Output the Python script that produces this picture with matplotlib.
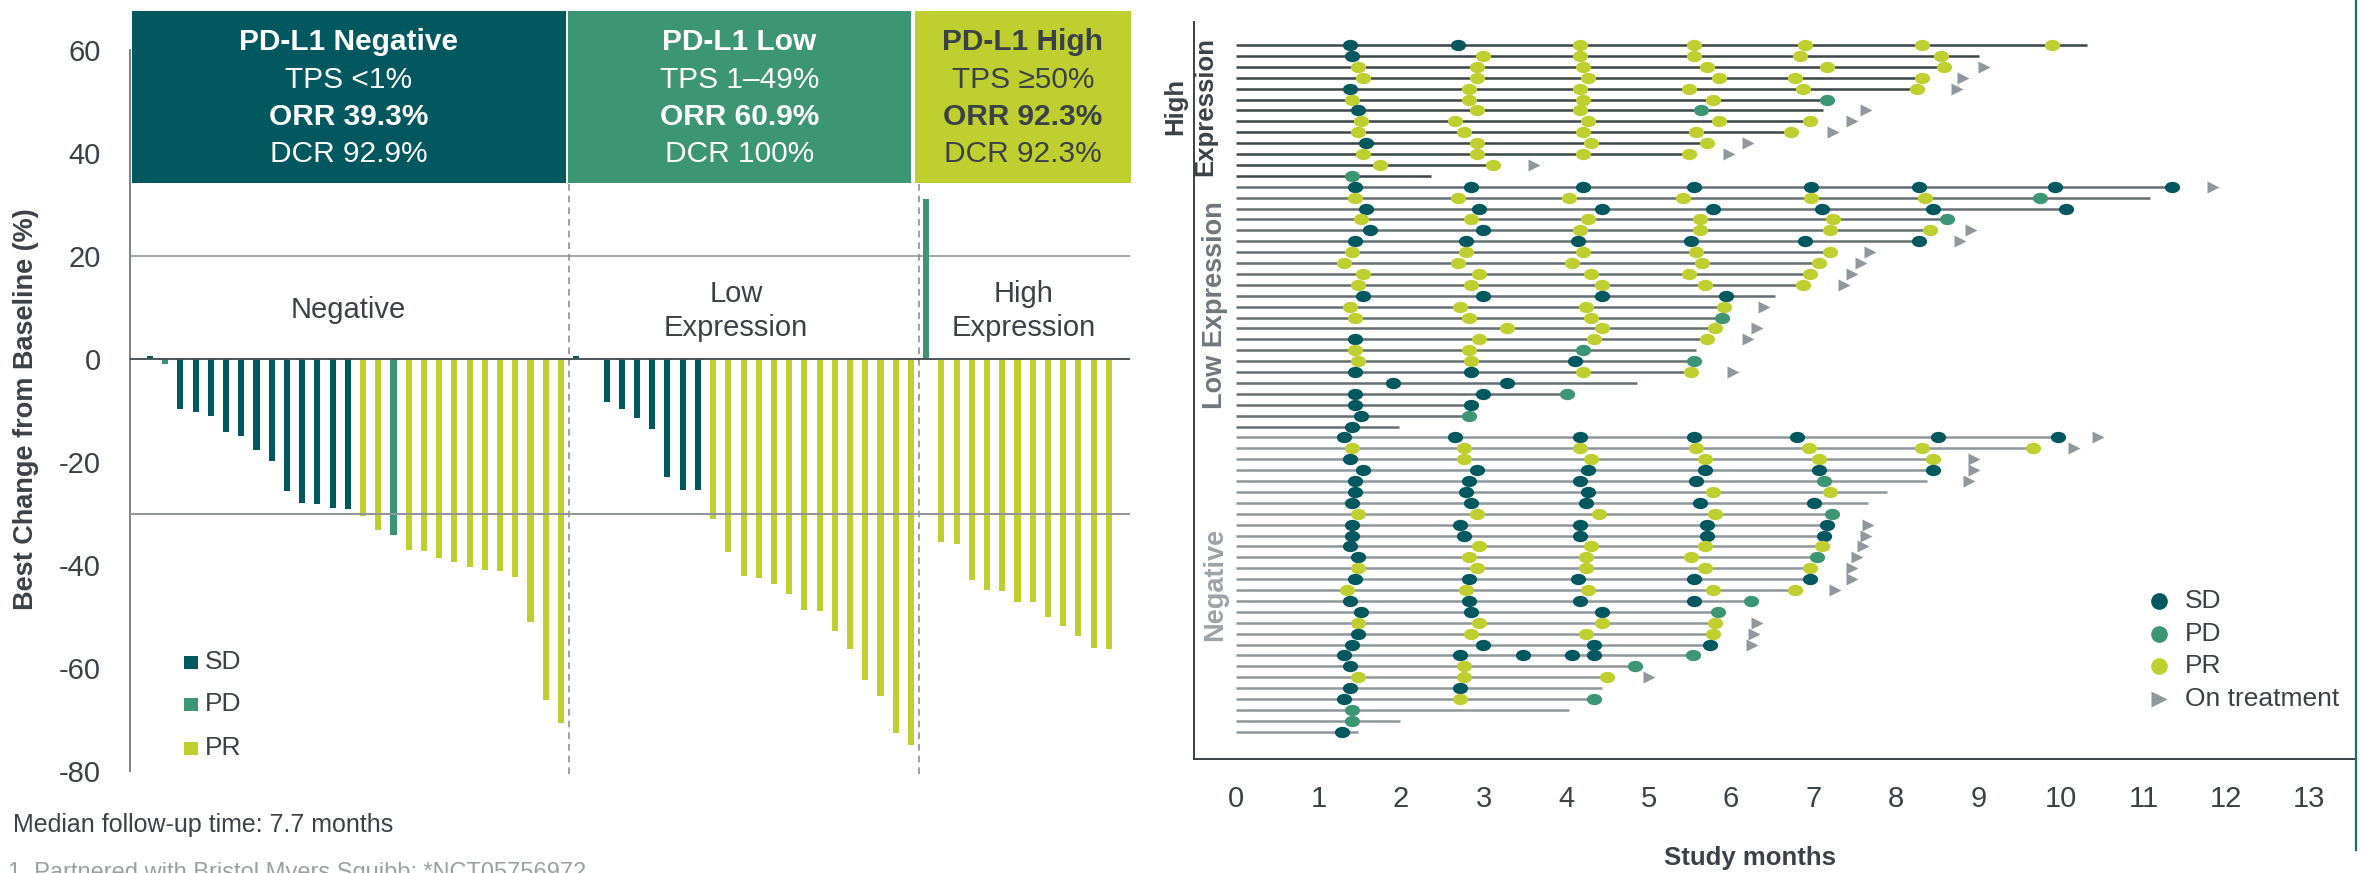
import numpy as np
import matplotlib.pyplot as plt
from matplotlib.path import Path
from matplotlib.transforms import Affine2D
from matplotlib.patches import Rectangle
from matplotlib.lines import Line2D

plt.rcParams['font.family'] = ['Liberation Sans', 'DejaVu Sans']
plt.rcParams['axes.unicode_minus'] = False

SD_COL = '#02585f'
PD_COL = '#3d9673'
PR_COL = '#bfcf2f'
TXT = '#3b4146'
RESP_COL = {'SD': SD_COL, 'PD': PD_COL, 'PR': PR_COL}

# ---- waterfall: best change from baseline (%) per patient ----
neg_change = [0.5, -1.0, -9.8, -10.2, -11.0, -14.2, -15.0, -17.6, -19.9, -25.6, -28.0, -28.2, -29.0, -29.2,
              -30.4, -33.2, -34.2, -37.0, -37.2, -38.7, -39.4, -40.3, -40.9, -41.1, -42.4, -51.1, -66.3, -70.7]
neg_resp = ('SD PD SD SD SD SD SD SD SD SD SD SD SD SD '
            'PR PR PD PR PR PR PR PR PR PR PR PR PR PR').split()
low_change = [0.5, 0.0, -8.3, -9.7, -11.4, -13.5, -22.9, -25.4, -25.5, -31.1, -37.5, -42.1, -42.6, -43.6,
              -45.7, -48.7, -48.9, -52.9, -56.3, -62.4, -65.4, -72.7, -75.0]
low_resp = ('SD SD SD SD SD SD SD SD SD '
            'PR PR PR PR PR PR PR PR PR PR PR PR PR PR').split()
high_change = [31.0, -35.6, -35.9, -43.0, -44.8, -45.0, -47.1, -47.2, -50.0, -51.8, -53.7, -56.2, -56.4]
high_resp = 'PD PR PR PR PR PR PR PR PR PR PR PR PR'.split()

box_titles = ['PD-L1 Negative', 'PD-L1 Low', 'PD-L1 High']
box_tps = ['TPS <1%', 'TPS 1–49%', 'TPS ≥50%']
box_orr = ['ORR 39.3%', 'ORR 60.9%', 'ORR 92.3%']
box_dcr = ['DCR 92.9%', 'DCR 100%', 'DCR 92.3%']
group_labels = ['Negative', 'Low\nExpression', 'High\nExpression']

# ---- swimmer rows, top to bottom: (line end, on-treatment arrow, assessments) ----
high_rows = [
    (10.32, None, [('SD', 1.38), ('SD', 2.69), ('PR', 4.17), ('PR', 5.55), ('PR', 6.90), ('PR', 8.31), ('PR', 9.89)]),
    (9.00, None, [('SD', 1.40), ('PR', 2.99), ('PR', 4.17), ('PR', 5.55), ('PR', 6.84), ('PR', 8.54)]),
    (8.58, 9.07, [('PR', 1.48), ('PR', 2.92), ('PR', 4.20), ('PR', 5.71), ('PR', 7.16), ('PR', 8.58)]),
    (8.31, 8.81, [('PR', 1.54), ('PR', 2.92), ('PR', 4.27), ('PR', 5.85), ('PR', 6.77), ('PR', 8.31)]),
    (8.25, 8.74, [('SD', 1.38), ('PR', 2.82), ('PR', 4.17), ('PR', 5.49), ('PR', 6.87), ('PR', 8.25)]),
    (7.16, None, [('PR', 1.41), ('PR', 2.82), ('PR', 4.20), ('PR', 5.78), ('PD', 7.16)]),
    (7.12, 7.63, [('SD', 1.48), ('PR', 2.92), ('PR', 4.17), ('PD', 5.63)]),
    (6.96, 7.46, [('PR', 1.51), ('PR', 2.66), ('PR', 4.27), ('PR', 5.85), ('PR', 6.96)]),
    (6.73, 7.23, [('PR', 1.48), ('PR', 2.76), ('PR', 4.20), ('PR', 5.58), ('PR', 6.73)]),
    (5.71, 6.21, [('SD', 1.57), ('PR', 2.92), ('PR', 4.30), ('PR', 5.71)]),
    (5.49, 5.98, [('PR', 1.54), ('PR', 2.92), ('PR', 4.20), ('PR', 5.49)]),
    (3.12, 3.61, [('PR', 1.74), ('PR', 3.12)]),
    (2.36, None, [('PD', 1.41)]),
]
low_rows = [
    (11.34, 11.84, [('SD', 1.44), ('SD', 2.85), ('SD', 4.20), ('SD', 5.55), ('SD', 6.97), ('SD', 8.28), ('SD', 9.93), ('SD', 11.34)]),
    (11.08, None, [('PR', 1.44), ('PR', 2.69), ('PR', 4.04), ('PR', 5.42), ('PR', 6.97), ('PR', 8.35), ('PD', 9.75)]),
    (10.06, None, [('SD', 1.57), ('SD', 2.95), ('SD', 4.43), ('SD', 5.78), ('SD', 7.10), ('SD', 8.45), ('SD', 10.06)]),
    (8.62, None, [('PR', 1.51), ('PR', 2.85), ('PR', 4.27), ('PR', 5.62), ('PR', 7.23), ('PD', 8.62)]),
    (8.41, 8.91, [('SD', 1.63), ('SD', 2.99), ('PR', 4.17), ('PR', 5.62), ('PR', 7.20), ('PR', 8.41)]),
    (8.28, 8.78, [('SD', 1.44), ('SD', 2.79), ('SD', 4.14), ('SD', 5.52), ('SD', 6.90), ('SD', 8.28)]),
    (7.20, 7.69, [('PR', 1.41), ('PR', 2.79), ('PR', 4.20), ('PR', 5.58), ('PR', 7.20)]),
    (7.07, 7.57, [('PR', 1.31), ('PR', 2.69), ('PR', 4.07), ('PR', 5.65), ('PR', 7.07)]),
    (6.96, 7.46, [('PR', 1.54), ('PR', 2.95), ('PR', 4.30), ('PR', 5.49), ('PR', 6.96)]),
    (6.87, 7.37, [('PR', 1.48), ('PR', 2.85), ('PR', 4.43), ('PR', 5.69), ('PR', 6.87)]),
    (6.53, None, [('SD', 1.54), ('SD', 2.99), ('SD', 4.43), ('SD', 5.94)]),
    (5.91, 6.40, [('PR', 1.38), ('PR', 2.72), ('PR', 4.24), ('PR', 5.91)]),
    (5.89, None, [('PR', 1.44), ('PR', 2.82), ('PR', 4.30), ('PD', 5.89)]),
    (5.81, 6.31, [('PR', 3.28), ('PR', 4.43), ('PR', 5.81)]),
    (5.71, 6.21, [('SD', 1.44), ('PR', 2.95), ('PR', 4.34), ('PR', 5.71)]),
    (5.58, None, [('PR', 1.44), ('PR', 2.82), ('PD', 4.20)]),
    (5.55, None, [('PR', 1.48), ('PR', 2.85), ('SD', 4.11), ('PD', 5.55)]),
    (5.52, 6.02, [('SD', 1.44), ('SD', 2.85), ('PR', 4.20), ('PR', 5.52)]),
    (4.86, None, [('SD', 1.90), ('SD', 3.28)]),
    (4.01, None, [('SD', 1.44), ('SD', 2.99), ('PD', 4.01)]),
    (2.85, None, [('SD', 1.44), ('SD', 2.85)]),
    (2.82, None, [('SD', 1.51), ('PD', 2.82)]),
    (1.97, None, [('SD', 1.41)]),
]
neg_rows = [
    (9.96, 10.45, [('SD', 1.31), ('SD', 2.66), ('SD', 4.17), ('SD', 5.55), ('SD', 6.80), ('SD', 8.51), ('SD', 9.96)]),
    (9.66, 10.16, [('PR', 1.41), ('PR', 2.76), ('PR', 4.17), ('PR', 5.58), ('PR', 6.94), ('PR', 8.31), ('PR', 9.66)]),
    (8.45, 8.94, [('SD', 1.38), ('PR', 2.76), ('PR', 4.30), ('PR', 5.69), ('PR', 7.07), ('PR', 8.45)]),
    (8.45, 8.94, [('SD', 1.54), ('SD', 2.92), ('SD', 4.27), ('SD', 5.69), ('SD', 7.07), ('SD', 8.45)]),
    (8.38, 8.88, [('SD', 1.44), ('SD', 2.82), ('SD', 4.17), ('SD', 5.58), ('PD', 7.13)]),
    (7.89, None, [('SD', 1.44), ('SD', 2.79), ('SD', 4.27), ('PR', 5.78), ('PR', 7.20)]),
    (7.66, None, [('SD', 1.41), ('SD', 2.85), ('SD', 4.24), ('SD', 5.62), ('SD', 7.00)]),
    (7.22, None, [('PR', 1.48), ('PR', 2.92), ('PR', 4.40), ('PR', 5.81), ('PD', 7.22)]),
    (7.16, 7.66, [('SD', 1.41), ('SD', 2.72), ('SD', 4.17), ('SD', 5.71), ('SD', 7.16)]),
    (7.13, 7.63, [('SD', 1.41), ('SD', 2.76), ('SD', 4.17), ('SD', 5.71), ('SD', 7.13)]),
    (7.10, 7.60, [('SD', 1.38), ('PR', 2.95), ('PR', 4.30), ('PR', 5.69), ('PR', 7.10)]),
    (7.04, 7.53, [('SD', 1.48), ('PR', 2.82), ('PR', 4.24), ('PR', 5.52), ('PD', 7.04)]),
    (6.96, 7.46, [('PR', 1.48), ('PR', 2.92), ('PR', 4.24), ('PR', 5.69), ('PR', 6.96)]),
    (6.96, 7.46, [('SD', 1.44), ('SD', 2.82), ('SD', 4.14), ('SD', 5.55), ('SD', 6.96)]),
    (6.77, 7.26, [('PR', 1.34), ('PR', 2.79), ('PR', 4.27), ('PR', 5.78), ('PR', 6.77)]),
    (6.24, None, [('SD', 1.38), ('SD', 2.82), ('SD', 4.17), ('SD', 5.55), ('PD', 6.24)]),
    (5.84, None, [('SD', 1.51), ('SD', 2.85), ('SD', 4.43), ('PD', 5.84)]),
    (5.81, 6.31, [('PR', 1.48), ('PR', 2.95), ('PR', 4.43), ('PR', 5.81)]),
    (5.78, 6.28, [('SD', 1.48), ('PR', 2.85), ('PR', 4.24), ('PR', 5.78)]),
    (5.75, 6.25, [('SD', 1.41), ('SD', 2.99), ('SD', 4.34), ('SD', 5.75)]),
    (5.54, None, [('SD', 1.31), ('SD', 2.72), ('SD', 3.48), ('SD', 4.07), ('SD', 4.34), ('PD', 5.54)]),
    (4.84, None, [('SD', 1.38), ('PR', 2.76), ('PD', 4.84)]),
    (4.50, 5.00, [('PR', 1.48), ('PR', 2.76), ('PR', 4.50)]),
    (4.43, None, [('SD', 1.38), ('SD', 2.72)]),
    (4.34, None, [('SD', 1.31), ('PR', 2.72), ('PD', 4.34)]),
    (4.03, None, [('PD', 1.41)]),
    (1.99, None, [('PD', 1.41)]),
    (1.48, None, [('SD', 1.28)]),
]
month_ticks = list(range(0, 14))

# ---------------------------------------------------------------
W, H = 2364, 873
fig = plt.figure(figsize=(W / 100, H / 100), dpi=100)


def px_axes(left, top, right, bottom):
    return fig.add_axes([left / W, 1 - bottom / H, (right - left) / W, (bottom - top) / H])


def fx(x):
    return x / W


def fy(y):
    return 1 - y / H


# ---- left panel: waterfall ----
ax = px_axes(130, 50, 1130, 771)
change = neg_change + low_change + high_change
resp = neg_resp + low_resp + high_resp
xpos = np.arange(len(change))
ax.bar(xpos, change, width=0.4, color=[RESP_COL[r] for r in resp], zorder=3)
ax.set_xlim(-1.31, 64.39)
ax.set_ylim(-80, 60)
ax.axhline(0, color='#4d5459', lw=1.4, zorder=4)
ax.axhline(20, color='#a3a8ac', lw=1.4, zorder=1)
ax.axhline(-30, color='#8f959a', lw=1.4, zorder=4)

n1, n2 = len(neg_change), len(neg_change) + len(low_change)
for xv in (n1 - 0.5, n2 - 0.5):
    ax.plot([xv, xv], [-80.5, 50], ls=(0, (4, 3)), color='#8c9196', lw=1.2, clip_on=False, zorder=2)

for s in ('top', 'right', 'bottom'):
    ax.spines[s].set_visible(False)
ax.spines['left'].set_color('#7d8388')
ax.spines['left'].set_linewidth(1.4)
ax.set_xticks([])
ax.set_yticks([60, 40, 20, 0, -20, -40, -60, -80])
ax.tick_params(axis='y', length=0, pad=21, labelsize=21, labelcolor=TXT)

box_edges = [(-1.18, 27.33), (27.46, 50.0), (50.26, 64.45)]
box_fill = [SD_COL, PD_COL, PR_COL]
box_text = ['white', 'white', TXT]
label_y = [9.5, 9.3, 9.3]
label_x = [13.0, 38.5, 57.4]
for i, (x0, x1) in enumerate(box_edges):
    ax.add_patch(Rectangle((x0, 34.2), x1 - x0, 33.4, facecolor=box_fill[i], edgecolor='none',
                           clip_on=False, zorder=6))
    cx = (x0 + x1) / 2
    for txt, yv, wt in ((box_titles[i], 61.6, 'bold'), (box_tps[i], 54.2, 'normal'),
                        (box_orr[i], 47.0, 'bold'), (box_dcr[i], 39.8, 'normal')):
        ax.text(cx, yv, txt, ha='center', va='center', fontsize=21.5, fontweight=wt,
                color=box_text[i], zorder=7, clip_on=False)
    ax.text(label_x[i], label_y[i], group_labels[i], ha='center', va='center', fontsize=21,
            color=TXT, linespacing=1.3, zorder=5)

fig.text(fx(26), fy(409), 'Best Change from Baseline (%)', rotation=90, ha='center', va='center',
         fontsize=19.5, fontweight='bold', color=TXT)

# legend squares
for lab, yy in zip(['SD', 'PD', 'PR'], [662, 704, 748]):
    fig.patches.append(Rectangle((fx(184), fy(yy + 6.5)), 14 / W, 13 / H, transform=fig.transFigure,
                                 facecolor=RESP_COL[lab], edgecolor='none'))
    fig.text(fx(205), fy(yy), lab, fontsize=19, color=TXT, va='center', ha='left')

fig.text(fx(13), fy(825), 'Median follow-up time: 7.7 months', fontsize=18, color=TXT, va='center')
fig.text(fx(8), fy(879), '1. Partnered with Bristol Myers Squibb; *NCT05756972', fontsize=17,
         color='#9aa0a5', va='baseline')

# ---- right panel: swimmer plot ----
ax2 = px_axes(1194, 22, 2354, 759)
ellipse = Path.unit_circle().transformed(Affine2D().scale(1.35, 1.0))
groups = [(high_rows, '#3c4549'), (low_rows, '#646e73'), (neg_rows, '#8e979c')]
k = 0
for rows, lc in groups:
    for end, arrow, events in rows:
        ax2.plot([0, end], [k, k], color=lc, lw=1.8, solid_capstyle='butt', zorder=1)
        for code, t in events:
            ax2.plot(t, k, marker=ellipse, ms=11, color=RESP_COL[code], mec='none', ls='none', zorder=3)
        if arrow is not None:
            ax2.plot(arrow, k, marker='>', ms=8.5, color='#8f989d', mec='none', ls='none', zorder=3)
        k += 1

ax2.set_xlim(-0.509, 13.55)
ax2.set_ylim(65.5, -2.11)
ax2.set_xticks(month_ticks)
ax2.set_yticks([])
ax2.tick_params(axis='x', length=0, pad=19, labelsize=21, labelcolor=TXT)
ax2.spines['top'].set_visible(False)
ax2.spines['right'].set_visible(False)
for s in ('left', 'bottom'):
    ax2.spines[s].set_color('#3b4146')
    ax2.spines[s].set_linewidth(1.4)

fig.text(fx(1750), fy(858), 'Study months', fontsize=18.5, fontweight='bold', color=TXT,
         ha='center', va='center')

fig.text(fx(1190), fy(106), 'High\nExpression', rotation=90, ha='center', va='center',
         fontsize=18.5, fontweight='bold', color=TXT, linespacing=1.3, multialignment='center')
fig.text(fx(1215), fy(305), 'Low Expression', rotation=90, ha='center', va='center',
         fontsize=19.5, fontweight='bold', color='#6e777c')
fig.text(fx(1215), fy(584), 'Negative', rotation=90, ha='center', va='center',
         fontsize=19.5, fontweight='bold', color='#9ca4a9')

# legend
leg_items = [('SD', SD_COL, 'o'), ('PD', PD_COL, 'o'), ('PR', PR_COL, 'o'), ('On treatment', '#8f989d', '>')]
for (lab, col, mk), yy in zip(leg_items, [601, 634, 666, 699]):
    fig.add_artist(Line2D([fx(2159)], [fy(yy)], marker=mk, ms=12, color=col, mec='none', ls='none',
                          transform=fig.transFigure))
    fig.text(fx(2185), fy(yy), lab, fontsize=19, color=TXT, va='center', ha='left')

# teal border on the right edge
fig.add_artist(Line2D([fx(2356), fx(2356)], [fy(0), fy(850)], color='#1e6a72', lw=1.6,
                      transform=fig.transFigure))

fig.savefig('out.png', dpi=100)
